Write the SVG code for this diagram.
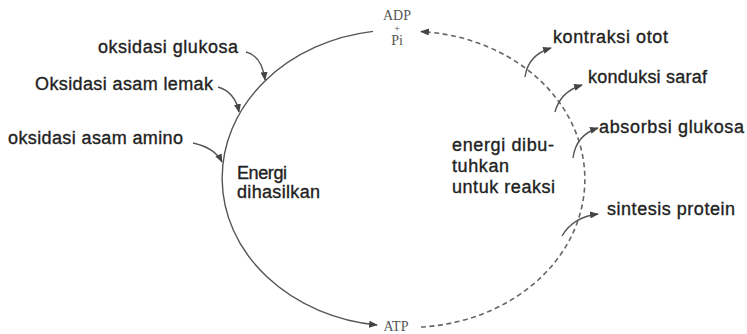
<svg xmlns="http://www.w3.org/2000/svg" width="747" height="334" viewBox="0 0 747 334">
<style>
.lbl{font-family:"Liberation Sans",Arial,sans-serif;font-size:18px;fill:#222;stroke:#222;stroke-width:0.35}
.chem{font-family:"Liberation Serif","Times New Roman",serif;font-size:14px;fill:#555;text-anchor:middle}
.ln{fill:none;stroke:#555;stroke-width:1.4}
.dash{fill:none;stroke:#666;stroke-width:1.6;stroke-dasharray:5 3.5}
</style>
<defs>
<marker id="ah" viewBox="0 0 10 8" refX="9" refY="4" markerWidth="9" markerHeight="7" markerUnits="userSpaceOnUse" orient="auto">
<path d="M0,0 L10,4 L0,8 z" fill="#444"/>
</marker>
</defs>
<rect width="747" height="334" fill="#fff"/>
<g id="connectors">
<path class="ln" d="M373,31.4 A175,148 0 0 0 377,325" marker-end="url(#ah)"/>
<path class="dash" d="M421,327 A175,148 0 0 0 421,31.6" marker-end="url(#ah)"/>
<path class="ln" d="M246,52 Q262,56 265,80" marker-end="url(#ah)"/>
<path class="ln" d="M218,87 Q235,92 239,112" marker-end="url(#ah)"/>
<path class="ln" d="M193,143 Q215,148 222,162" marker-end="url(#ah)"/>
<path class="ln" d="M525,77 Q528,55 551,48" marker-end="url(#ah)"/>
<path class="ln" d="M555,112 Q560,92 582,85" marker-end="url(#ah)"/>
<path class="ln" d="M573,158 Q576,135 598,128" marker-end="url(#ah)"/>
<path class="ln" d="M562,236 Q573,217 598,214" marker-end="url(#ah)"/>
</g>
<g id="adp">
<text class="chem"><tspan x="397" y="20">ADP</tspan><tspan x="397" y="32" font-size="10">+</tspan><tspan x="397" y="45">Pi</tspan></text>
</g>
<g id="atp">
<text class="chem" x="396" y="331">ATP</text>
</g>
<g id="oksidasi-glukosa"><text class="lbl" x="98" y="53" textLength="140">oksidasi glukosa</text></g>
<g id="oksidasi-lemak"><text class="lbl" x="35" y="90" textLength="178">Oksidasi asam lemak</text></g>
<g id="oksidasi-amino"><text class="lbl" x="8" y="144" textLength="175">oksidasi asam amino</text></g>
<g id="energi-dihasilkan">
<text class="lbl" x="237" y="179" textLength="50">Energi</text>
<text class="lbl" x="237" y="198" textLength="83">dihasilkan</text>
</g>
<g id="energi-dibutuhkan">
<text class="lbl" x="452" y="151" textLength="102">energi dibu-</text>
<text class="lbl" x="452" y="172" textLength="57">tuhkan</text>
<text class="lbl" x="452" y="193" textLength="103">untuk reaksi</text>
</g>
<g id="kontraksi-otot"><text class="lbl" x="553" y="43" textLength="115">kontraksi otot</text></g>
<g id="konduksi-saraf"><text class="lbl" x="588" y="83" textLength="119">konduksi saraf</text></g>
<g id="absorbsi-glukosa"><text class="lbl" x="599" y="133" textLength="145">absorbsi glukosa</text></g>
<g id="sintesis-protein"><text class="lbl" x="607" y="215" textLength="128">sintesis protein</text></g>
</svg>
